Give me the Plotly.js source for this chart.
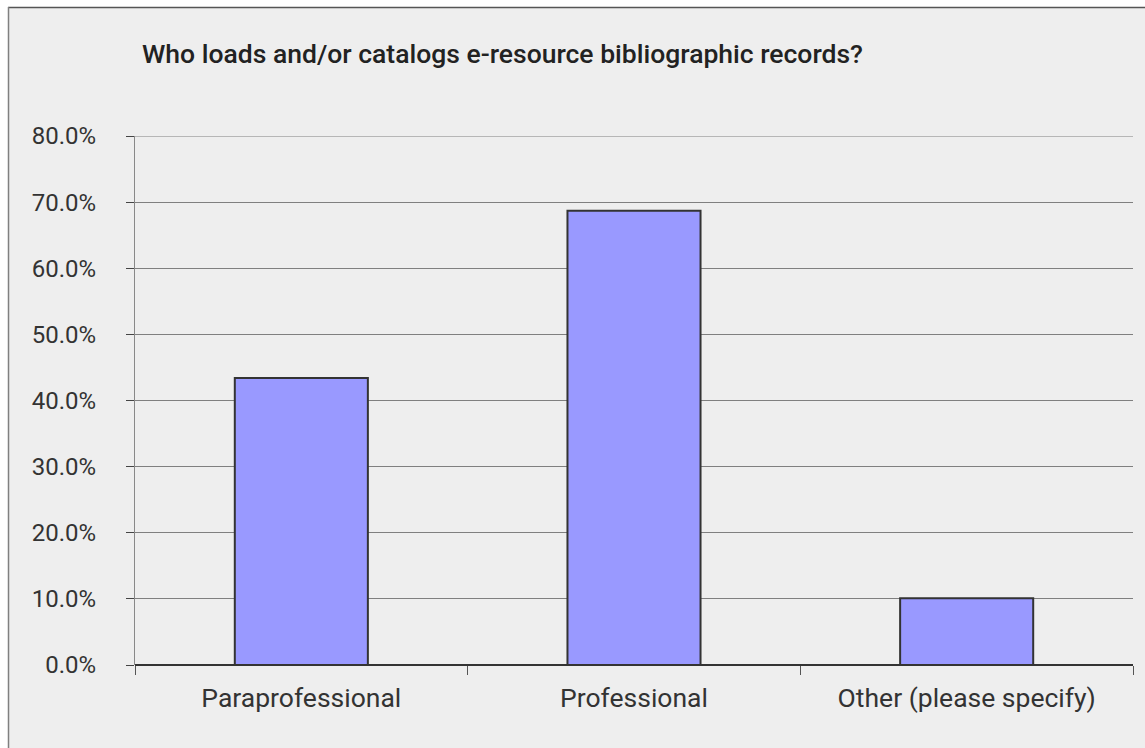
<!DOCTYPE html>
<html>
<head>
<meta charset="utf-8">
<script src="https://cdn.plot.ly/plotly-3.0.1.min.js"></script>
<style>
  html, body { margin: 0; padding: 0; background: #ffffff; }
  #chart { width: 1145px; height: 748px; }
</style>
</head>
<body>
<div id="chart"></div>
<script>
// Survey responses: share of respondents per staff category
const categories = ["Paraprofessional", "Professional", "Other (please specify)"];
const shares = [0.434, 0.687, 0.101];
const yTickValues = [0, 0.1, 0.2, 0.3, 0.4, 0.5, 0.6, 0.7, 0.8];
const chartTitle = "Who loads and/or catalogs e-resource bibliographic records?";

const W = 1145, H = 748;
const margin = { l: 135, r: 12, t: 136, b: 83 };
const plotW = W - margin.l - margin.r;
const plotH = H - margin.t - margin.b;
// convert a page pixel to paper coordinates (for the chart frame)
const px = x => (x - margin.l) / plotW;
const py = y => (H - margin.b - y) / plotH;

const FONT = "Roboto, Arial, sans-serif";
const yMax = yTickValues[yTickValues.length - 1];

const trace = {
  type: "bar",
  x: categories,
  y: shares,
  marker: { color: "#9999ff", line: { color: "#333333", width: 2 } },
  hoverinfo: "x+y"
};

const layout = {
  width: W,
  height: H,
  margin: margin,
  paper_bgcolor: "#ffffff",
  plot_bgcolor: "rgba(0,0,0,0)",
  bargap: 0.6,
  showlegend: false,
  font: { family: FONT, color: "#333333", size: 24 },
  title: {
    text: chartTitle,
    font: { family: FONT, size: 26.5, weight: 500, color: "#222222" },
    xref: "paper", x: px(142), xanchor: "left",
    yref: "container", y: 1 - 54 / H, yanchor: "middle"
  },
  xaxis: {
    type: "category",
    tickson: "boundaries",
    ticks: "outside",
    ticklen: 9,
    tickcolor: "#555555",
    ticklabelstandoff: 14,
    showgrid: false,
    showline: false,
    zeroline: false,
    tickfont: { family: FONT, size: 26.5, color: "#333333" },
    fixedrange: true
  },
  yaxis: {
    range: [0, yMax],
    tickvals: yTickValues,
    tickformat: ".1%",
    ticks: "outside",
    ticklen: 8,
    tickcolor: "#444444",
    ticklabelstandoff: 25,
    showgrid: true,
    gridcolor: "#7f7f7f",
    gridwidth: 1,
    showline: true,
    linecolor: "#888888",
    linewidth: 1,
    zeroline: true,
    zerolinecolor: "#333333",
    zerolinewidth: 2,
    tickfont: { family: FONT, size: 24, color: "#333333" },
    fixedrange: true
  },
  shapes: [
    // chart area background and frame
    {
      type: "rect", layer: "below", xref: "paper", yref: "paper",
      x0: px(8), x1: px(W + 20), y0: py(H + 20), y1: py(7),
      fillcolor: "#eeeeee", line: { width: 0 }
    },
    {
      type: "line", layer: "above", xref: "paper", yref: "paper",
      x0: px(8), x1: px(W + 20), y0: py(7.5), y1: py(7.5),
      line: { color: "#555555", width: 1.5 }
    },
    {
      type: "line", layer: "above", xref: "paper", yref: "paper",
      x0: px(8.5), x1: px(8.5), y0: py(7), y1: py(H + 20),
      line: { color: "#808080", width: 1.5 }
    },
    // top gridline at the end of the value range
    {
      type: "line", layer: "below", xref: "paper", yref: "y",
      x0: 0, x1: 1, y0: yMax, y1: yMax,
      line: { color: "#7f7f7f", width: 1 }
    }
  ]
};

Plotly.newPlot("chart", [trace], layout, { displayModeBar: false, staticPlot: true });
</script>
</body>
</html>
